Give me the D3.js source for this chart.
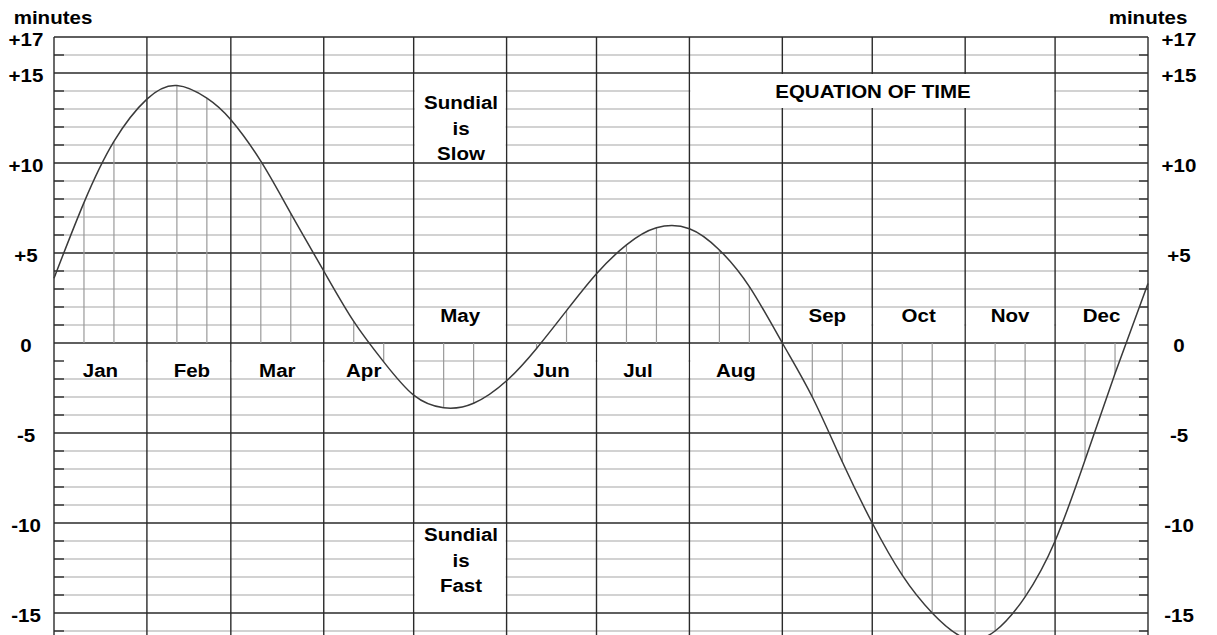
<!DOCTYPE html>
<html><head><meta charset="utf-8">
<script src="https://cdn.jsdelivr.net/npm/d3@7"></script>
<style>
body{margin:0;background:#fff}
svg{display:block}
text{font-family:"Liberation Sans",Arial,Helvetica,sans-serif;font-weight:bold;fill:#000}
</style>
</head><body>
<svg id="chart" width="1217" height="635"></svg>
<script>
// ---------- data ----------
const months = ["Jan","Feb","Mar","Apr","May","Jun","Jul","Aug","Sep","Oct","Nov","Dec"];
const monthStartDay = [0,31,59,90,120,151,181,212,243,273,304,334];
const yearLength = 365;
// months whose label sits above the zero line
const labelAboveZero = ["May","Sep","Oct","Nov","Dec"];
// [month, days after month start, minutes]
const equationOfTime = [
  ["Jan",0,3.6],["Jan",10,7.8],["Jan",20,11.2],
  ["Feb",0,13.55],["Feb",10,14.3],["Feb",20,13.6],
  ["Mar",0,12.4],["Mar",10,10.1],["Mar",20,7.2],
  ["Apr",0,4.0],["Apr",10,1.2],["Apr",20,-1.05],
  ["May",0,-2.9],["May",10,-3.6],["May",20,-3.35],
  ["Jun",0,-2.1],["Jun",10,-0.3],["Jun",20,1.8],
  ["Jul",0,3.85],["Jul",10,5.45],["Jul",20,6.4],
  ["Aug",0,6.35],["Aug",10,5.17],["Aug",20,3.13],
  ["Sep",0,0.0],["Sep",10,-3.0],["Sep",20,-6.6],
  ["Oct",0,-10.0],["Oct",10,-12.9],["Oct",20,-15.0],
  ["Nov",0,-16.4],["Nov",10,-16.0],["Nov",20,-14.1],
  ["Dec",0,-11.0],["Dec",10,-6.5],["Dec",20,-1.7],["Dec",31,3.3]
];
const dropLineDays = [10,20];
const tickValues = [17,15,10,5,0,-5,-10,-15];
const tickLabels = ["+17","+15","+10","+5","0","-5","-10","-15"];
const axisTitle = "minutes";
const chartTitle = "EQUATION OF TIME";
const slowNote = ["Sundial","is","Slow"];
const fastNote = ["Sundial","is","Fast"];

// ---------- layout ----------
const svg = d3.select("#chart");
const L = 54, R = 1148, T = 37, step = 18;
const x = d3.scaleLinear().domain([0, yearLength]).range([L, R]);
const y = d3.scaleLinear().domain([17, -17]).range([T, T + 34 * step]);
const yBottom = 635;
const dayX = (m, d) => x(monthStartDay[months.indexOf(m)] + d);
const monthEdge = i => x(i < 12 ? monthStartDay[i] : yearLength);
const SX = 1.08, FS = 19;

function label(g, str, cx, base, anchor) {
  g.append("text")
    .attr("transform", `translate(${cx},${base}) scale(${SX},1)`)
    .attr("text-anchor", anchor || "middle")
    .style("font-size", FS + "px")
    .text(str);
}

const grid = svg.append("g");
const minutesAll = d3.range(-17, 17);
// minor horizontal lines
grid.selectAll("line.minor").data(minutesAll.filter(v => v % 5 !== 0))
  .join("line").attr("class","minor")
  .attr("x1", L).attr("x2", R)
  .attr("y1", d => y(d)).attr("y2", d => y(d))
  .attr("stroke", "#a6a6a6").attr("stroke-width", 1.2);
// major horizontal lines
grid.selectAll("line.major").data(minutesAll.filter(v => v % 5 === 0).concat([17]))
  .join("line").attr("class","major")
  .attr("x1", L).attr("x2", R)
  .attr("y1", d => y(d)).attr("y2", d => y(d))
  .attr("stroke", "#2a2a2a").attr("stroke-width", 1.4);
// month vertical lines
grid.selectAll("line.month").data(d3.range(0, 13))
  .join("line").attr("class","month")
  .attr("x1", d => monthEdge(d)).attr("x2", d => monthEdge(d))
  .attr("y1", y(17)).attr("y2", yBottom)
  .attr("stroke", "#2a2a2a").attr("stroke-width", 1.4);

// white text boxes that interrupt the grid
const boxes = svg.append("g");
function box(x0, x1, v0, v1) {
  boxes.append("rect")
    .attr("x", x0 + 1).attr("width", x1 - x0 - 2)
    .attr("y", y(v0) + 1).attr("height", y(v1) - y(v0) - 2)
    .attr("fill", "#fff");
}
months.forEach((m, i) => {
  if (labelAboveZero.includes(m)) box(monthEdge(i), monthEdge(i + 1), 2, 0);
  else box(monthEdge(i), monthEdge(i + 1), 0, -2);
});
box(monthEdge(4), monthEdge(5), 15, 10);
box(monthEdge(4), monthEdge(5), -10, -15);
box(monthEdge(7), monthEdge(11), 15, 13);

// dark edge ticks on minor lines
const edgeTicks = svg.append("g");
minutesAll.filter(v => v % 5 !== 0).forEach(v => {
  [[L, L + 10], [R - 9, R]].forEach(([a, b]) => {
    edgeTicks.append("line").attr("x1", a).attr("x2", b)
      .attr("y1", y(v)).attr("y2", y(v))
      .attr("stroke", "#2a2a2a").attr("stroke-width", 1.4);
  });
});

// drop lines
svg.append("g").selectAll("line")
  .data(equationOfTime.filter(p => dropLineDays.includes(p[1])))
  .join("line")
  .attr("x1", p => dayX(p[0], p[1])).attr("x2", p => dayX(p[0], p[1]))
  .attr("y1", y(0)).attr("y2", p => y(p[2]))
  .attr("stroke", "#9a9a9a").attr("stroke-width", 1.2);

// curve
const line = d3.line()
  .x(p => dayX(p[0], p[1]))
  .y(p => y(p[2]))
  .curve(d3.curveNatural);
svg.append("path").datum(equationOfTime)
  .attr("d", line).attr("fill", "none")
  .attr("stroke", "#3a3a3a").attr("stroke-width", 1.5);

// texts
const txt = svg.append("g");
label(txt, axisTitle, 53, 24);
label(txt, axisTitle, 1148, 24);
tickValues.forEach((v, i) => {
  label(txt, tickLabels[i], 26, y(v) + 9);
  label(txt, tickLabels[i], 1179, y(v) + 9);
});
const labelNudge = {Feb: 3, Apr: -5, Jul: -5};
months.forEach((m, i) => {
  const cx = (monthEdge(i) + monthEdge(i + 1)) / 2 + (labelNudge[m] || 0);
  const base = labelAboveZero.includes(m) ? y(1.5) + 6 : y(-1.5) + 7;
  label(txt, m, cx, base);
});
label(txt, chartTitle, 873, y(14) + 7);
slowNote.forEach((s, i) => label(txt, s, 461, 109 + i * 25.5));
fastNote.forEach((s, i) => label(txt, s, 461, 541 + i * 25.5));
</script>
</body></html>
